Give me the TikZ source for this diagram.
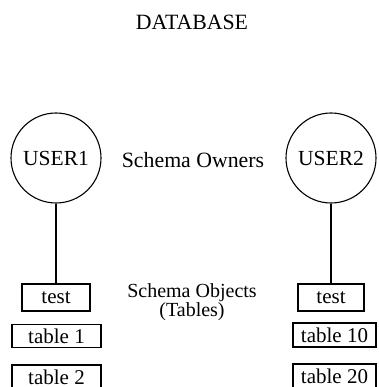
\documentclass[tikz,border=0pt]{standalone}
\usepackage{fontspec}
\setmainfont{Liberation Serif}
\begin{document}
\begin{tikzpicture}[x=1pt,y=-1pt,
  label text/.style={inner sep=0pt,font=\fontsize{21.8}{24}\selectfont},
  owner/.style={draw,circle,line width=1.1pt,minimum size=90pt,inner sep=0pt,font=\fontsize{21.5}{24}\selectfont},
  tablebox/.style={draw,rectangle,line width=1.1pt,inner sep=0pt,font=\fontsize{21}{24}\selectfont},
  link/.style={line width=1.1pt}]
  \useasboundingbox (0,0) rectangle (378,387);
  \clip (0,0) rectangle (378,387);

  % title
  \node[label text] (db) at (192,22) {DATABASE};

  % schema owners
  \node[owner] (u1) at (56,158) {USER1};
  \node[owner] (u2) at (331,158) {USER2};
  \node[label text] (owners) at (193,160) {Schema Owners};

  % schema objects
  \node[label text,align=center,font=\fontsize{20}{18}\selectfont] (objects) at (192,302) {Schema Objects\\(Tables)};

  \node[tablebox,minimum width=68pt,minimum height=27pt] (t1) at (56,297.5) {test};
  \node[tablebox,minimum width=89pt,minimum height=23pt] (a1) at (56.5,336) {table 1};
  \node[tablebox,minimum width=89pt,minimum height=24pt] (a2) at (56.5,377) {table 2};

  \node[tablebox,minimum width=66pt,minimum height=27pt] (t2) at (331,297.5) {test};
  \node[tablebox,minimum width=83pt,minimum height=24pt] (b1) at (334.5,335) {table 10};
  \node[tablebox,minimum width=83pt,minimum height=24pt] (b2) at (334.5,376) {table 20};

  % ownership links
  \draw[link] (u1.south) -- (t1.north);
  \draw[link] (u2.south) -- (t2.north);
\end{tikzpicture}
\end{document}
